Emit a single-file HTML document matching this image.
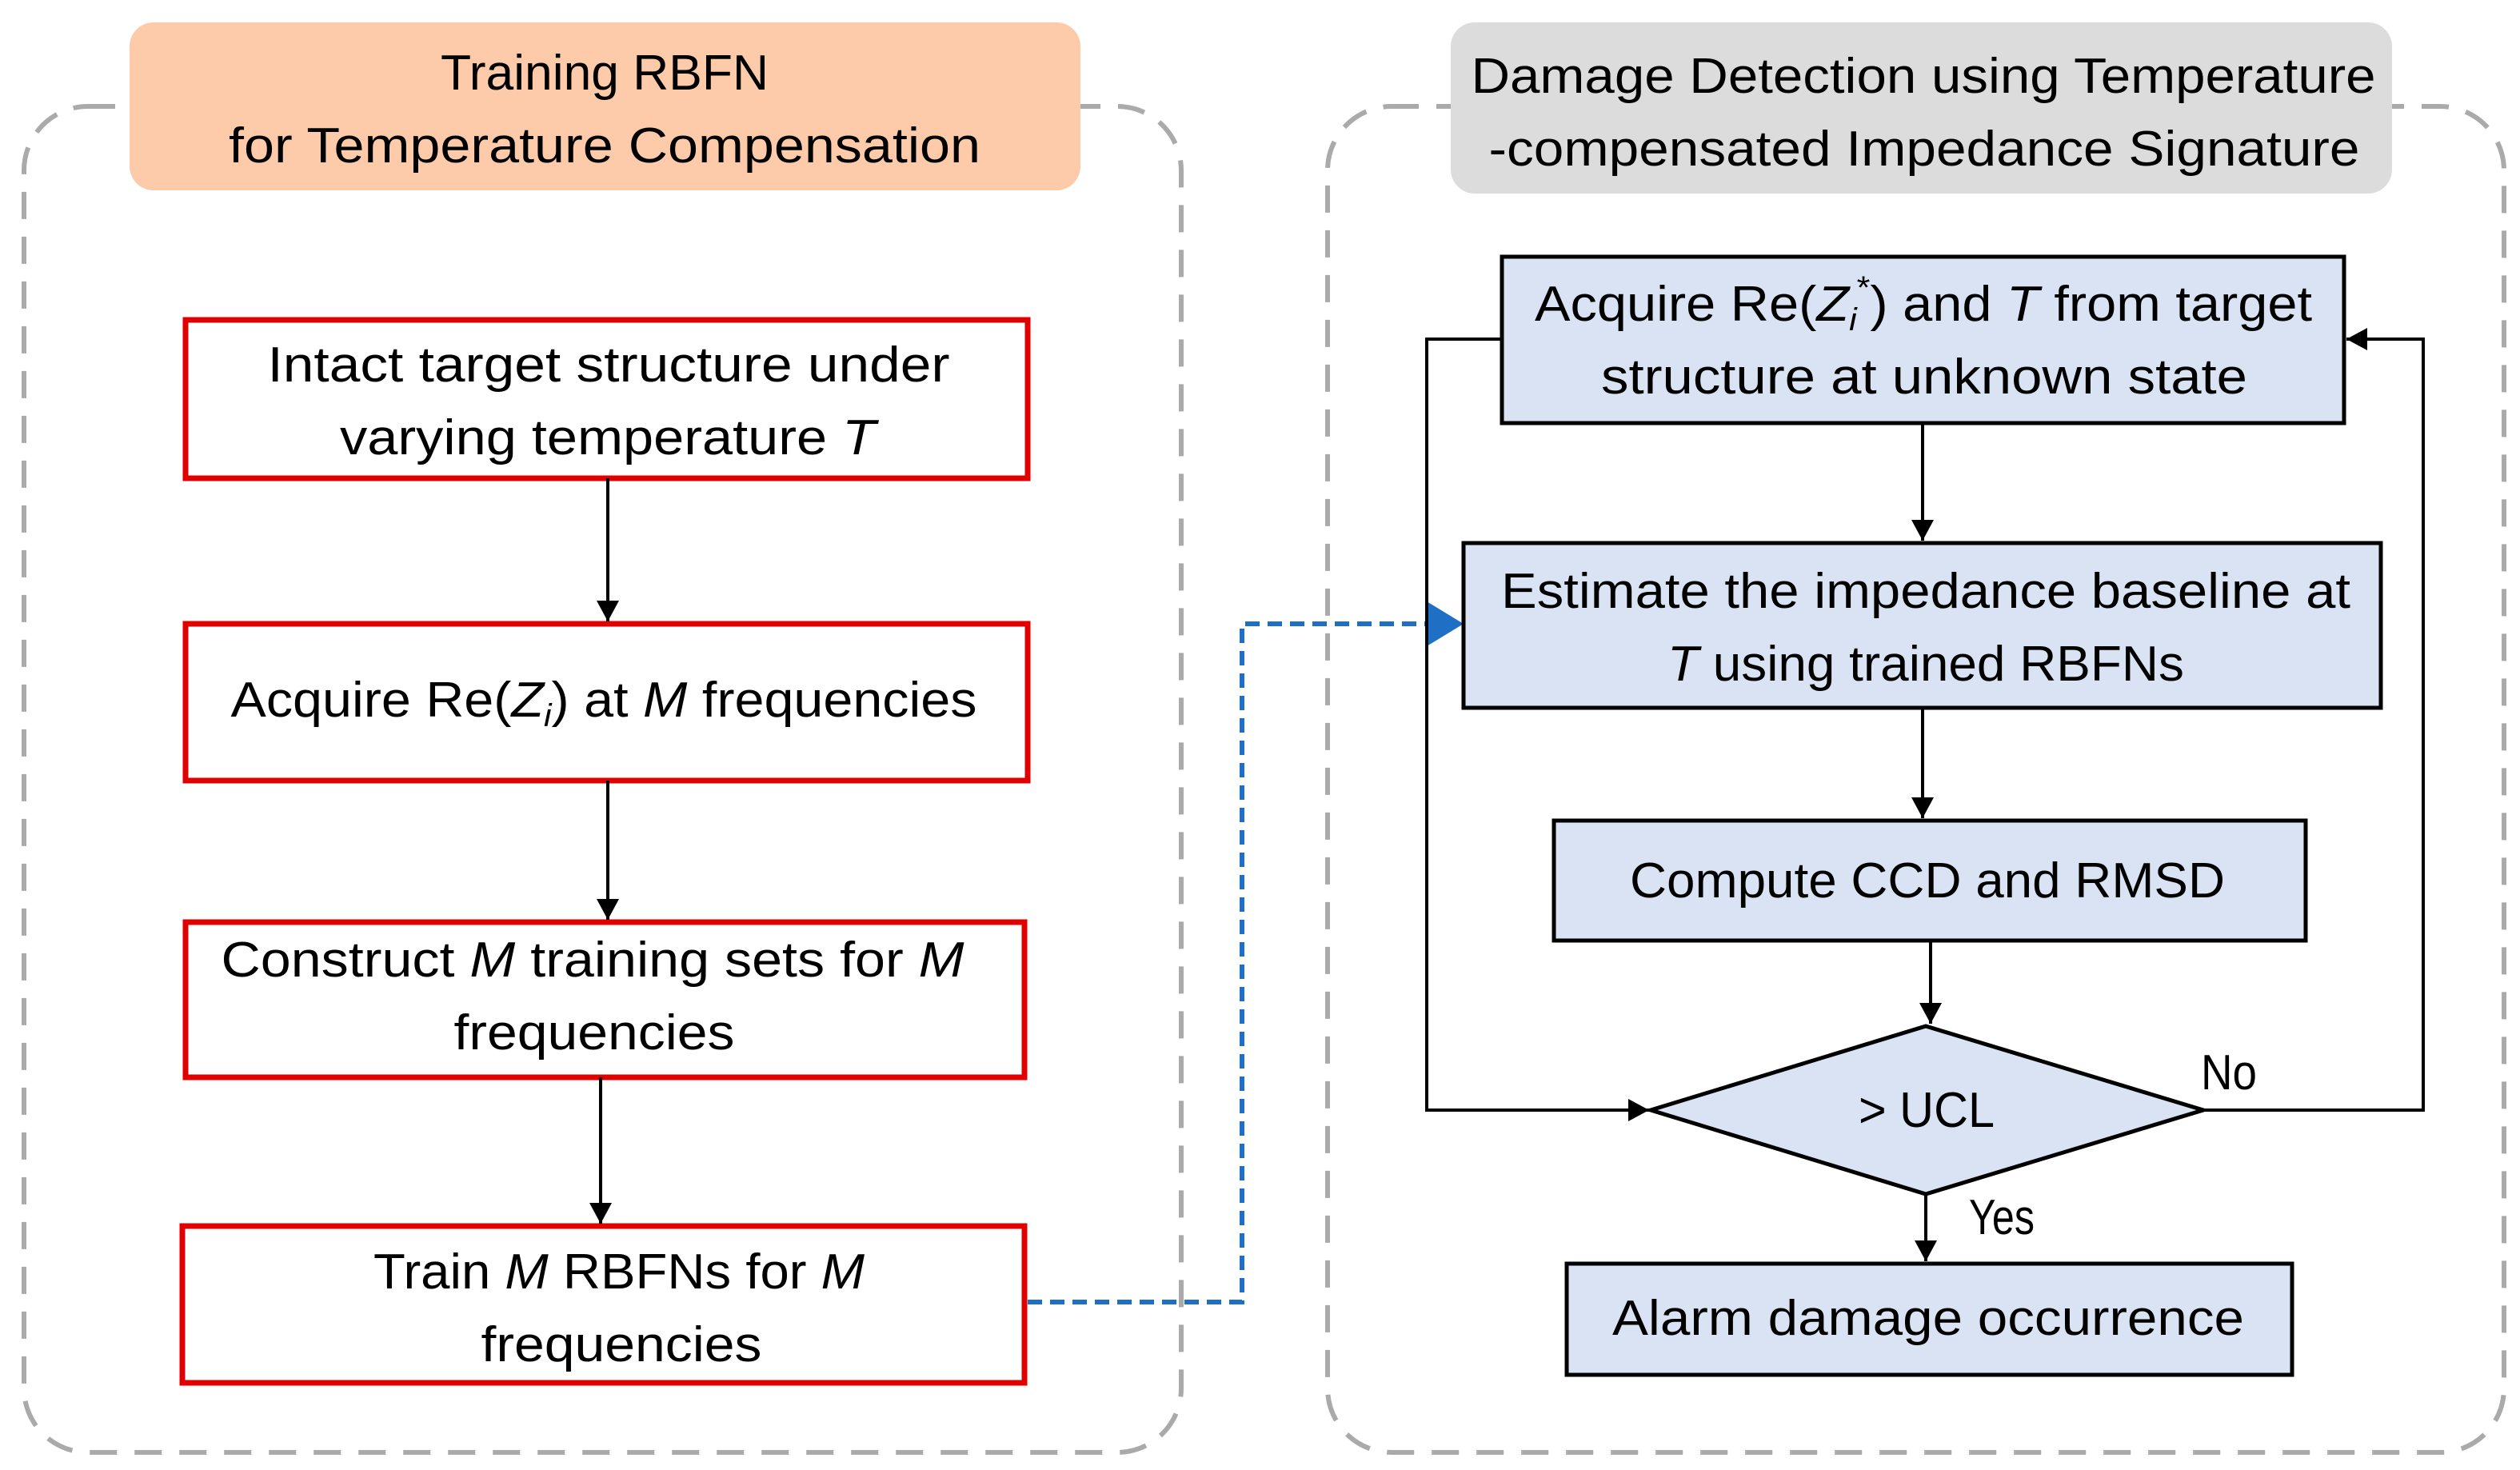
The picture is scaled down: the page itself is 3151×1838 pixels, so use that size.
<!DOCTYPE html>
<html><head><meta charset="utf-8"><style>html,body{margin:0;padding:0;background:#fff}svg{display:block}text{font-family:"Liberation Sans",sans-serif;font-size:62px;fill:#000}</style></head>
<body>
<svg width="3151" height="1838" viewBox="0 0 3151 1838" xmlns="http://www.w3.org/2000/svg">
<defs>
<marker id="ab" markerWidth="26" markerHeight="28" refX="26" refY="14" orient="auto" markerUnits="userSpaceOnUse" viewBox="0 0 26 28"><path d="M0,0 L26,14 L0,28z" fill="#000"/></marker>
</defs>
<rect x="30" y="133" width="1447" height="1683" rx="80" fill="none" stroke="#aaa" stroke-width="6" stroke-dasharray="34,22"/>
<rect x="1660" y="133" width="1471" height="1683" rx="80" fill="none" stroke="#aaa" stroke-width="6" stroke-dasharray="34,22"/>
<rect x="162" y="28" width="1189" height="210" rx="30" fill="#fdcbaa"/>
<text x="756" y="112" text-anchor="middle" textLength="410" lengthAdjust="spacingAndGlyphs">Training RBFN</text>
<text x="756" y="203" text-anchor="middle" textLength="940" lengthAdjust="spacingAndGlyphs">for Temperature Compensation</text>
<rect x="1814" y="28" width="1177" height="214" rx="30" fill="#dcdcdc"/>
<text x="2405" y="116" text-anchor="middle" textLength="1131" lengthAdjust="spacingAndGlyphs">Damage Detection using Temperature</text>
<text x="2406" y="207" text-anchor="middle" textLength="1089" lengthAdjust="spacingAndGlyphs">-compensated Impedance Signature</text>
<g fill="#fff" stroke="#e00000" stroke-width="7">
<rect x="232" y="400" width="1053" height="198"/>
<rect x="232" y="780" width="1053" height="196"/>
<rect x="232" y="1153" width="1049" height="194"/>
<rect x="228" y="1533" width="1053" height="196"/>
</g>
<text x="761" y="477" text-anchor="middle" textLength="853" lengthAdjust="spacingAndGlyphs">Intact target structure under</text>
<text x="760" y="568" text-anchor="middle" textLength="670" lengthAdjust="spacingAndGlyphs">varying temperature <tspan font-style="italic">T</tspan></text>
<text x="755" y="896" text-anchor="middle" textLength="933" lengthAdjust="spacingAndGlyphs">Acquire Re(<tspan font-style="italic">Z</tspan><tspan font-style="italic" font-size="40" dy="12">i</tspan><tspan dy="-12">) at </tspan><tspan font-style="italic">M</tspan> frequencies</text>
<text x="741" y="1221" text-anchor="middle" textLength="929" lengthAdjust="spacingAndGlyphs">Construct <tspan font-style="italic">M</tspan> training sets for <tspan font-style="italic">M</tspan></text>
<text x="743" y="1312" text-anchor="middle" textLength="351" lengthAdjust="spacingAndGlyphs">frequencies</text>
<text x="774" y="1611" text-anchor="middle" textLength="614" lengthAdjust="spacingAndGlyphs">Train <tspan font-style="italic">M</tspan> RBFNs for <tspan font-style="italic">M</tspan></text>
<text x="777" y="1702" text-anchor="middle" textLength="351" lengthAdjust="spacingAndGlyphs">frequencies</text>
<g stroke="#000" stroke-width="4" marker-end="url(#ab)">
<line x1="760" y1="598" x2="760" y2="777"/>
<line x1="760" y1="976" x2="760" y2="1150"/>
<line x1="751" y1="1347" x2="751" y2="1530"/>
</g>
<polyline points="1285,1628 1553,1628 1553,780 1790,780" fill="none" stroke="#1f6fc5" stroke-width="6" stroke-dasharray="18,10"/>
<path d="M1784,752 L1830,780 L1784,808z" fill="#1f6fc5"/>
<g fill="#dae3f3" stroke="#000" stroke-width="5">
<rect x="1878" y="321" width="1053" height="208"/>
<rect x="1830" y="679" width="1147" height="206"/>
<rect x="1943" y="1026" width="940" height="150"/>
<polygon points="2064,1388 2408,1283 2755,1388 2408,1493"/>
<rect x="1959" y="1580" width="907" height="139"/>
</g>
<text x="2405" y="401" text-anchor="middle" textLength="972" lengthAdjust="spacingAndGlyphs">Acquire Re(<tspan font-style="italic">Z</tspan><tspan font-style="italic" font-size="40" dy="12">i</tspan><tspan font-size="40" dy="-40">*</tspan><tspan dy="28">) and </tspan><tspan font-style="italic">T</tspan> from target</text>
<text x="2406" y="492" text-anchor="middle" textLength="808" lengthAdjust="spacingAndGlyphs">structure at unknown state</text>
<text x="2408" y="760" text-anchor="middle" textLength="1062" lengthAdjust="spacingAndGlyphs">Estimate the impedance baseline at</text>
<text x="2408" y="851" text-anchor="middle" textLength="646" lengthAdjust="spacingAndGlyphs"><tspan font-style="italic">T</tspan> using trained RBFNs</text>
<text x="2410" y="1122" text-anchor="middle" textLength="744" lengthAdjust="spacingAndGlyphs">Compute CCD and RMSD</text>
<text x="2409" y="1409" text-anchor="middle" textLength="170" lengthAdjust="spacingAndGlyphs">&gt; UCL</text>
<text x="2411" y="1669" text-anchor="middle" textLength="790" lengthAdjust="spacingAndGlyphs">Alarm damage occurrence</text>
<text x="2752" y="1362" font-size="48" textLength="70" lengthAdjust="spacingAndGlyphs">No</text>
<text x="2462" y="1543" font-size="48" textLength="82" lengthAdjust="spacingAndGlyphs">Yes</text>
<g stroke="#000" stroke-width="4" fill="none" marker-end="url(#ab)">
<line x1="2404" y1="529" x2="2404" y2="676"/>
<line x1="2404" y1="885" x2="2404" y2="1023"/>
<line x1="2414" y1="1176" x2="2414" y2="1280"/>
<line x1="2408" y1="1493" x2="2408" y2="1577"/>
<polyline points="1878,424 1784,424 1784,1388 2062,1388"/>
<polyline points="2755,1388 3030,1388 3030,424 2934,424"/>
</g>
</svg>
</body></html>
